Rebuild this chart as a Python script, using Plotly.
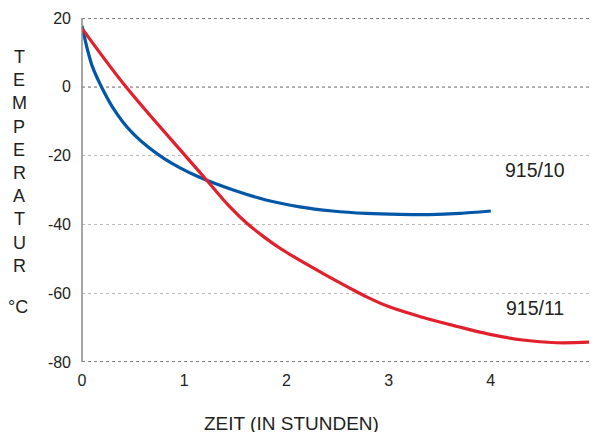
import plotly.graph_objects as go

# Data
hours_10 = [0, 0.05, 0.1, 0.19, 0.3, 0.4, 0.5, 0.65, 0.8, 0.95, 1.15, 1.48, 1.8, 2.13, 2.45, 2.78, 3.11, 3.4, 3.7, 4.0]
temp_10 = [17.7, 11.2, 6.0, 0, -6.0, -10.2, -13.6, -17.6, -20.8, -23.4, -26.3, -30, -32.9, -34.9, -36.1, -36.8, -37.1, -37.15, -36.8, -36.1]

hours_11 = [0, 0.43, 1.01, 1.21, 1.45, 1.61, 1.77, 1.93, 2.1, 2.36, 2.62, 2.78, 3.0, 3.33, 3.66, 3.98, 4.31, 4.64, 5.0]
temp_11 = [17, 0, -20, -26.8, -35.0, -39.6, -43.4, -46.8, -49.9, -54.3, -58.5, -61.0, -63.9, -67.0, -69.6, -71.9, -73.6, -74.4, -74.2]

x_ticks = [0, 1, 2, 3, 4, 5]
y_ticks = [-80, -60, -40, -20, 0, 20]
y_title_letters = ["T", "E", "M", "P", "E", "R", "A", "T", "U", "R"]

FONT = "Liberation Sans, Arial, sans-serif"
TXT = "#231f20"

OFF = 8  # browser default body margin
W, H = 597 - OFF, 432 - OFF
L, R, T, B = 82 - OFF, 4, 18 - OFF, 70
pw, ph = W - L - R, H - T - B

def px_x(p):
    return (p - OFF - L) / pw

def px_y(p):
    return (H - B - (p - OFF)) / ph

fig = go.Figure()
fig.add_trace(go.Scatter(x=hours_10, y=temp_10, mode="lines",
                         line=dict(color="#0057A8", width=3.2, shape="spline", smoothing=0.7),
                         showlegend=False, hoverinfo="skip"))
fig.add_trace(go.Scatter(x=hours_11, y=temp_11, mode="lines",
                         line=dict(color="#E2202C", width=3.2, shape="spline", smoothing=1.0),
                         showlegend=False, hoverinfo="skip"))

annotations = []
for i, ch in enumerate(y_title_letters):
    annotations.append(dict(text=ch, x=px_x(19), y=px_y(57 + i * 23.2), xref="paper", yref="paper",
                            showarrow=False, xanchor="center", yanchor="middle",
                            font=dict(family=FONT, size=18, color=TXT)))
annotations.append(dict(text="°C", x=px_x(18), y=px_y(307), xref="paper", yref="paper",
                        showarrow=False, xanchor="center", yanchor="middle",
                        font=dict(family=FONT, size=18, color=TXT)))
annotations.append(dict(text="ZEIT (IN STUNDEN)", x=px_x(291), y=px_y(423), xref="paper", yref="paper",
                        showarrow=False, xanchor="center", yanchor="middle",
                        font=dict(family=FONT, size=19, color=TXT)))
annotations.append(dict(text="915/10", x=px_x(535), y=px_y(170), xref="paper", yref="paper",
                        showarrow=False, xanchor="center", yanchor="middle",
                        font=dict(family=FONT, size=19.5, color=TXT)))
annotations.append(dict(text="915/11", x=px_x(535), y=px_y(308), xref="paper", yref="paper",
                        showarrow=False, xanchor="center", yanchor="middle",
                        font=dict(family=FONT, size=19.5, color=TXT)))

shapes = []
for yv in [20, 0, -80]:
    shapes.append(dict(type="line", xref="paper", x0=0, x1=1, yref="y", y0=yv, y1=yv,
                       line=dict(color="#555555", width=1.5, dash="dot"), layer="below"))
shapes.append(dict(type="line", xref="paper", x0=1, x1=1, yref="paper", y0=0, y1=1,
                   line=dict(color="#555555", width=1.5)))
shapes.append(dict(type="line", xref="paper", x0=0, x1=0, yref="paper", y0=0, y1=1,
                   line=dict(color="#888888", width=1.5)))

fig.update_layout(
    width=W, height=H,
    margin=dict(l=L, r=R, t=T, b=B, pad=0, autoexpand=False),
    paper_bgcolor="white", plot_bgcolor="white",
    font=dict(family=FONT, size=16, color=TXT),
    xaxis=dict(range=[0, 5], tickvals=x_ticks, ticktext=[str(v) for v in x_ticks],
               showgrid=False, zeroline=False, showline=False, ticks="",
               ticklabelstandoff=7, ticklabeloverflow="allow", automargin=False,
               tickfont=dict(size=16, color=TXT), fixedrange=True),
    yaxis=dict(range=[-80, 20], tickvals=y_ticks, ticktext=[str(v) for v in y_ticks],
               showgrid=True, gridcolor="#bbbbbb", griddash="dot", gridwidth=1,
               zeroline=False, showline=False, ticks="", automargin=False,
               ticklabelstandoff=10, tickfont=dict(size=16, color=TXT), fixedrange=True),
    annotations=annotations,
    shapes=shapes,
)

fig.write_html("out.html")
